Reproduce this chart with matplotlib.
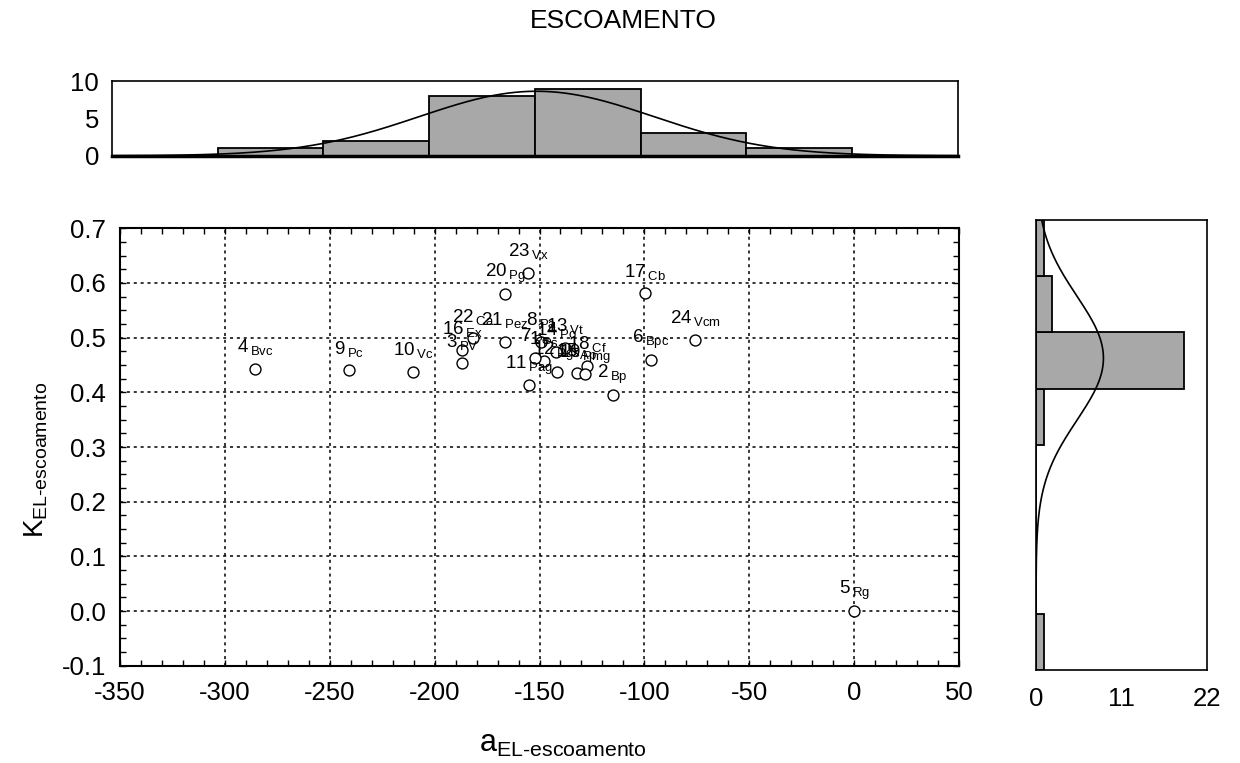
import numpy as np
import matplotlib
matplotlib.use('Agg')
import matplotlib.pyplot as plt
from matplotlib.ticker import MultipleLocator, FormatStrFormatter

plt.rcParams['font.family'] = ['Liberation Sans', 'DejaVu Sans']
plt.rcParams['mathtext.fontset'] = 'custom'
plt.rcParams['mathtext.rm'] = 'Liberation Sans'
plt.rcParams['mathtext.sf'] = 'Liberation Sans'
plt.rcParams['mathtext.it'] = 'Liberation Sans:italic'
plt.rcParams['mathtext.default'] = 'regular'
plt.rcParams['axes.unicode_minus'] = False

# points (id, code, a, K)
point_ids = list(range(1, 25))
point_codes = ['Ps', 'Bp', 'PV', 'Bvc', 'Rg', 'Bpc', 'Pe', 'Pa', 'Pc', 'Vc',
               'Pag', 'Pgs', 'Vt', 'Po', 'Ap', 'Ex', 'Cb', 'Cf', 'Pmg', 'Pg',
               'Pez', 'Ca', 'Vx', 'Vcm']
a_vals = [-147.8, -115.1, -186.9, -285.6, 0.0, -96.9, -152.1, -149.2, -240.8, -210.3,
          -155.1, -141.6, -137.8, -142.1, -132.1, -186.9, -99.6, -127.3, -128.3, -166.4,
          -166.4, -181.7, -155.3, -75.8]
k_vals = [0.457, 0.396, 0.453, 0.443, 0.0, 0.459, 0.463, 0.492, 0.440, 0.437,
          0.413, 0.437, 0.481, 0.474, 0.435, 0.477, 0.581, 0.448, 0.433, 0.580,
          0.492, 0.499, 0.618, 0.496]

# marginal histograms
top_bin_left = [-300, -250, -200, -150, -100, -50]
top_counts = [1, 2, 8, 9, 3, 1]
top_bin_width = 50
right_bin_low = [-0.1, 0.0, 0.1, 0.2, 0.3, 0.4, 0.5, 0.6]
right_counts = [1, 0, 0, 0, 1, 19, 2, 1]
right_bin_height = 0.1

BAR_COLOR = '#a8a8a8'
TICK_SIZE = 18.5


def normal_curve(values, grid, n, width):
    mu = np.mean(values)
    sd = np.std(values, ddof=1)
    return n * width * np.exp(-0.5 * ((grid - mu) / sd) ** 2) / (sd * np.sqrt(2 * np.pi))


fig = plt.figure(figsize=(12.4, 7.63), dpi=100)

# main scatter
ax = fig.add_axes([0.0968, 0.1275, 0.6766, 0.5733])
ax.scatter(a_vals, k_vals, s=62, facecolors='white', edgecolors='black',
           linewidths=1.0, zorder=3)
for pid, code, a, k in zip(point_ids, point_codes, a_vals, k_vals):
    ax.annotate(f'{pid}$\\,_{{{code}}}$', (a, k), xytext=(0, 12), textcoords='offset points',
                ha='center', va='baseline', fontsize=13.5, zorder=4)
ax.set_xlim(-350, 50)
ax.set_ylim(-0.1, 0.7)
ax.xaxis.set_major_locator(MultipleLocator(50))
ax.xaxis.set_minor_locator(MultipleLocator(10))
ax.yaxis.set_major_locator(MultipleLocator(0.1))
ax.yaxis.set_minor_locator(MultipleLocator(0.025))
ax.yaxis.set_major_formatter(FormatStrFormatter('%.1f'))
ax.grid(True, which='major', linestyle=(0, (2, 2.5)), color='black', linewidth=1.1)
ax.set_axisbelow(True)
ax.tick_params(which='both', direction='in', top=True, right=True, length=4, width=1)
ax.tick_params(axis='x', labelsize=TICK_SIZE, pad=11)
ax.tick_params(axis='y', labelsize=TICK_SIZE, pad=10)
for sp in ax.spines.values():
    sp.set_linewidth(1.5)

# top histogram
ax_top = fig.add_axes([0.0901, 0.7959, 0.6825, 0.0979])
ax_top.bar(top_bin_left, top_counts, width=top_bin_width, align='edge',
           color=BAR_COLOR, edgecolor='black', linewidth=1.3)
xg = np.linspace(-350, 50, 400)
ax_top.plot(xg, normal_curve(a_vals, xg, len(a_vals), top_bin_width), color='black', linewidth=1.2)
ax_top.set_xlim(-350, 50)
ax_top.set_ylim(0, 10)
ax_top.set_xticks([])
ax_top.set_yticks([0, 5, 10])
ax_top.tick_params(length=0, labelsize=TICK_SIZE, pad=9)
for sp in ax_top.spines.values():
    sp.set_linewidth(1.2)
ax_top.spines['bottom'].set_linewidth(2.5)

# right histogram
ax_r = fig.add_axes([0.8355, 0.1219, 0.1379, 0.5898])
ax_r.barh(right_bin_low, right_counts, height=right_bin_height, align='edge',
          color=BAR_COLOR, edgecolor='black', linewidth=1.3)
yg = np.linspace(-0.1, 0.7, 400)
ax_r.plot(normal_curve(k_vals, yg, len(k_vals), right_bin_height), yg, color='black', linewidth=1.2)
ax_r.set_xlim(0, 22)
ax_r.set_ylim(-0.1, 0.7)
ax_r.set_xticks([0, 11, 22])
ax_r.set_yticks([])
ax_r.tick_params(length=0, labelsize=TICK_SIZE, pad=12)
for sp in ax_r.spines.values():
    sp.set_linewidth(1.2)

fig.text(623 / 1240, 1 - 21 / 763, 'ESCOAMENTO', ha='center', va='center', fontsize=19)
fig.text(563 / 1240, 1 - 752 / 763, 'a$_{EL\u2010escoamento}$', ha='center', va='baseline', fontsize=22)
fig.text(36 / 1240, 1 - 460 / 763, 'K$_{EL\u2010escoamento}$', ha='center', va='center',
         rotation=90, fontsize=20)

fig.savefig('out.png', dpi=100)
